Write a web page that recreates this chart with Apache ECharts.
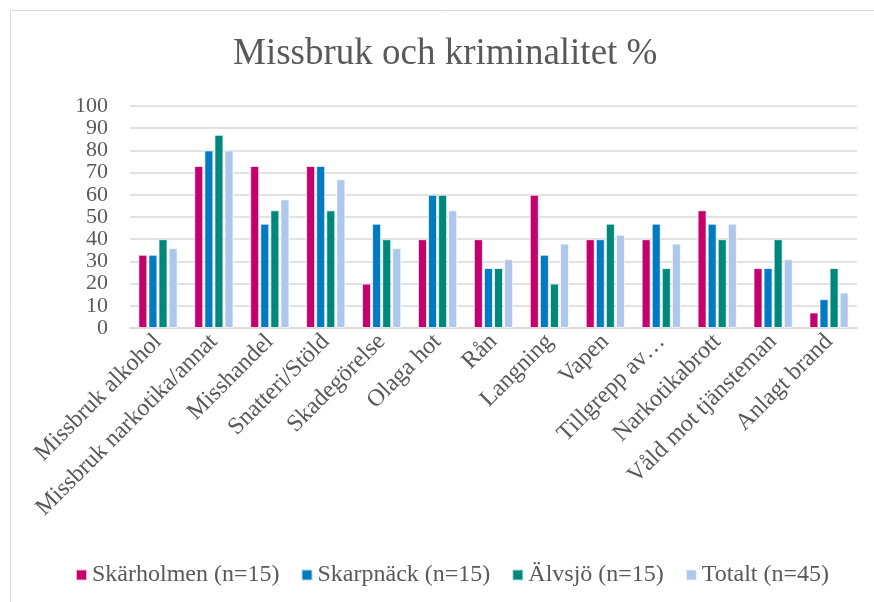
<!DOCTYPE html>
<html><head><meta charset="utf-8">
<script src="https://cdn.jsdelivr.net/npm/echarts@6/dist/echarts.min.js"></script>
<style>html,body{margin:0;padding:0;background:#fff}#c{width:874px;height:602px}</style>
</head><body><div id="c"></div>
<script>
const categories = ["Missbruk alkohol","Missbruk narkotika/annat","Misshandel","Snatteri/Stöld","Skadegörelse","Olaga hot","Rån","Langning","Vapen","Tillgrepp av…","Narkotikabrott","Våld mot tjänsteman","Anlagt brand"];
const skarholmen = [33,73,73,73,20,40,40,60,40,40,53,27,7];
const skarpnack  = [33,80,47,73,47,60,27,33,40,47,47,27,13];
const alvsjo     = [40,87,53,53,40,60,27,20,47,27,40,40,27];
const totalt     = [36,80,58,67,36,53,31,38,42,38,47,31,16];
const seriesNames = ["Skärholmen (n=15)","Skarpnäck (n=15)","Älvsjö (n=15)","Totalt (n=45)"];
const colors = ["#C3006B","#007AC3","#00877B","#AEC7EA"];
const font = "Liberation Serif, Times New Roman, serif";
const chart = echarts.init(document.getElementById('c'), null, {renderer:'canvas'});
const data = [skarholmen, skarpnack, alvsjo, totalt];
chart.setOption({
  animation:false,
  backgroundColor:'#fff',
  graphic:[{type:'rect', shape:{x:10.5,y:10.5,width:900,height:700}, style:{fill:'none', stroke:'#D9D9D9', lineWidth:1}, silent:true}],
  title:{text:'Missbruk och kriminalitet %', left:228, top:31, textStyle:{fontFamily:font, fontSize:37, fontWeight:'normal', color:'#595959'}},
  legend:{left:70, top:558, itemWidth:11, itemHeight:11, itemGap:21, icon:'rect',
    textStyle:{fontFamily:font, fontSize:24, color:'#595959', padding:[0,0,0,0]},
    data: seriesNames},
  grid:{left:130, right:17, top:106, bottom:274, containLabel:false},
  xAxis:{type:'category', data:categories,
    axisLine:{lineStyle:{color:'#D9D9D9', width:1.5}}, axisTick:{show:false},
    axisLabel:{rotate:45, interval:0, fontFamily:font, fontSize:24, color:'#595959', margin:10}},
  yAxis:{type:'value', min:0, max:100, interval:10,
    axisLine:{show:false}, axisTick:{show:false},
    splitLine:{lineStyle:{color:'#D9D9D9', width:1.5}},
    axisLabel:{fontFamily:font, fontSize:22, color:'#595959', margin:22, showMinLabel:true, showMaxLabel:true, hideOverlap:false}},
  series: data.map((d,i)=>({name:seriesNames[i], type:'bar', data:d, barWidth:9, barGap:'12%',
    itemStyle:{color:colors[i], borderColor:'rgba(255,255,255,0.7)', borderWidth:1}}))
});
</script></body></html>
